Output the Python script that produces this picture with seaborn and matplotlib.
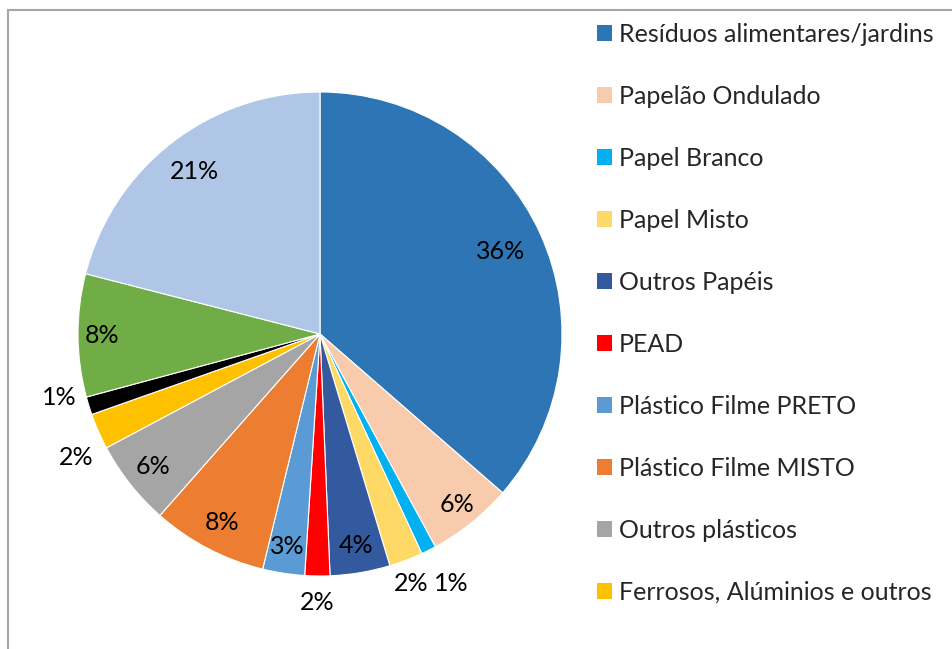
import matplotlib
matplotlib.use("Agg")
import matplotlib.pyplot as plt
import seaborn as sns
import numpy as np
from matplotlib.patches import Rectangle

categories = [
    "Resíduos alimentares/jardins",
    "Papelão Ondulado",
    "Papel Branco",
    "Papel Misto",
    "Outros Papéis",
    "PEAD",
    "Plástico Filme PRETO",
    "Plástico Filme MISTO",
    "Outros plásticos",
    "Ferrosos, Alúminios e outros",
    "Vidro",
    "Têxteis",
    "Outros",
]
values = [36.4, 5.7, 1.0, 2.25, 4.0, 1.67, 2.8, 7.7, 5.7, 2.4, 1.2, 8.2, 21.0]
colors = ["#2E75B6", "#F8CBAD", "#00B0F0", "#FFD966", "#335A9E", "#FF0000",
          "#5B9BD5", "#ED7D31", "#A5A5A5", "#FFC000", "#000000", "#70AD47", "#AFC6E6"]
legend_count = 10
label_radius = [0.82, 0.905, 1.165, 1.10, 0.885, 1.11, 0.89, 0.877, 0.88, 1.13, 1.11, 0.90, 0.85]
label_angle_shift = [0, 0, 1.0, -0.7, 0, 0, 0, 0, 0, 3.0, -3.6, 0, 0]

sns.set_theme(style="white")
plt.rcParams["font.family"] = ["Lato", "DejaVu Sans"]

W, H = 952, 649
fig = plt.figure(figsize=(W / 100, H / 100), dpi=100)

cx, cy, r = 320, 334, 242
ax = fig.add_axes([(cx - r) / W, (H - cy - r) / H, 2 * r / W, 2 * r / H])

wedges, _ = ax.pie(values, colors=colors, startangle=90, counterclock=False,
                   radius=1.0, wedgeprops=dict(edgecolor="white", linewidth=0.8))
ax.set_xlim(-1, 1)
ax.set_ylim(-1, 1)
ax.set_aspect("equal")
ax.axis("off")

for w, v, rr, da in zip(wedges, values, label_radius, label_angle_shift):
    ang = np.deg2rad((w.theta1 + w.theta2) / 2 + da)
    ax.text(rr * np.cos(ang), rr * np.sin(ang), f"{v:.0f}%", ha="center", va="center",
            fontsize=18, color="black", clip_on=False)

leg = fig.legend(handles=wedges[:legend_count], labels=categories[:legend_count],
                 loc="upper left", bbox_to_anchor=(597 / W, 1 - 23 / H),
                 frameon=False, fontsize=18, handlelength=0.58, handleheight=0.58,
                 handletextpad=0.3, labelspacing=1.56, borderpad=0, borderaxespad=0)
for h in leg.legend_handles:
    h.set_edgecolor("none")

fig.patches.append(Rectangle((8 / W, -0.1), 1.2, 1 - 10 / H + 0.1, transform=fig.transFigure,
                             fill=False, edgecolor="#A6A6A6", linewidth=1.5))

fig.savefig("out.png", dpi=100, facecolor="white")
